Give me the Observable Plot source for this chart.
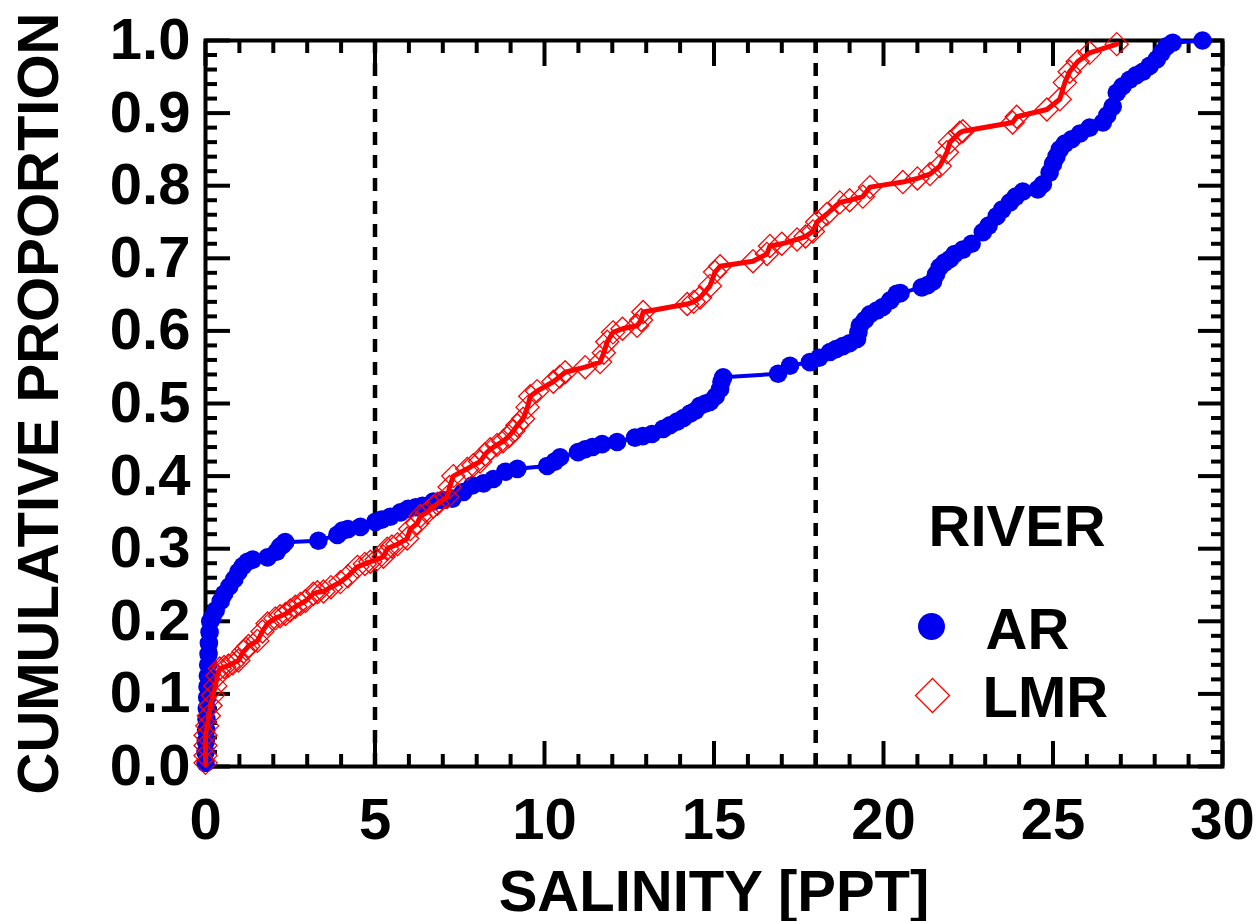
<!DOCTYPE html>
<html>
<head>
<meta charset="utf-8">
<script src="https://cdn.jsdelivr.net/npm/d3@7"></script>
<script src="https://cdn.jsdelivr.net/npm/@observablehq/plot@0.6"></script>
<style>
  html, body { margin: 0; padding: 0; background: #fff; }
  #chart { width: 1257px; height: 921px; }
</style>
</head>
<body>
<div id="chart"></div>
<script>
// Cumulative proportion of observations by salinity, for the two rivers.
const arSalinity = [
  0.00, 0.00, 0.01, 0.02, 0.03, 0.04, 0.05, 0.06, 0.07, 0.08, 0.09, 0.10, 0.12, 0.14,
  0.20, 0.30, 0.45, 0.55, 0.70, 0.85, 0.97, 1.10, 1.24, 1.39, 1.83, 2.10, 2.20, 2.27, 2.35,
  3.33, 3.89, 4.04, 4.20, 4.57, 5.01, 5.20, 5.45, 5.75, 5.98, 6.20, 6.40, 6.72, 7.00, 7.28,
  7.60, 7.87, 8.20, 8.49, 8.84, 9.20, 10.08, 10.30, 10.46, 10.99, 11.20, 11.41, 11.70, 12.14,
  12.67, 12.90, 13.17, 13.50, 13.70, 13.91, 14.10, 14.29, 14.45, 14.59, 14.75, 14.88, 15.05,
  15.18, 15.22, 15.27, 16.89, 17.24, 17.83, 18.10, 18.42, 18.60, 18.80, 19.00, 19.22, 19.26,
  19.30, 19.45, 19.60, 19.80, 19.98, 20.20, 20.39, 20.50, 21.13, 21.30, 21.46, 21.55, 21.66,
  21.80, 21.96, 22.10, 22.34, 22.60, 22.93, 23.10, 23.34, 23.50, 23.73, 23.90, 24.11, 24.55,
  24.70, 24.90, 25.00, 25.10, 25.20, 25.35, 25.55, 25.80, 26.08, 26.47, 26.60, 26.76, 26.88,
  27.05, 27.26, 27.45, 27.65, 27.85, 28.06, 28.20, 28.35, 28.53, 29.41
];
const arProportion = [
  0.005, 0.020, 0.035, 0.050, 0.065, 0.080, 0.095, 0.110, 0.125, 0.140, 0.155, 0.170, 0.185, 0.200,
  0.205, 0.215, 0.228, 0.238, 0.248, 0.258, 0.268, 0.276, 0.282, 0.285, 0.288, 0.296, 0.303, 0.305, 0.309,
  0.311, 0.319, 0.325, 0.327, 0.330, 0.337, 0.340, 0.344, 0.350, 0.355, 0.357, 0.359, 0.365, 0.367, 0.369,
  0.378, 0.387, 0.390, 0.396, 0.406, 0.410, 0.414, 0.420, 0.426, 0.433, 0.437, 0.440, 0.444, 0.447,
  0.453, 0.455, 0.458, 0.465, 0.470, 0.475, 0.480, 0.486, 0.490, 0.497, 0.500, 0.502, 0.510,
  0.520, 0.530, 0.536, 0.541, 0.552, 0.557, 0.563, 0.571, 0.575, 0.579, 0.583, 0.589, 0.598,
  0.607, 0.615, 0.623, 0.628, 0.633, 0.642, 0.651, 0.652, 0.660, 0.663, 0.668, 0.678, 0.688,
  0.694, 0.699, 0.706, 0.712, 0.720, 0.736, 0.745, 0.758, 0.767, 0.777, 0.785, 0.792, 0.795,
  0.802, 0.818, 0.830, 0.840, 0.850, 0.858, 0.864, 0.872, 0.880, 0.887, 0.897, 0.909, 0.928,
  0.937, 0.946, 0.952, 0.957, 0.965, 0.974, 0.983, 0.992, 0.997, 1.000
];

const lmrSalinity = [
  0.00, 0.00, 0.00, 0.00, 0.05, 0.10, 0.15, 0.22, 0.29, 0.35, 0.42, 0.55, 0.68, 0.80, 0.97,
  1.12, 1.20, 1.27, 1.53, 1.68, 1.83, 2.06, 2.20, 2.36, 2.50, 2.65, 2.80, 2.95, 3.18, 3.30,
  3.48, 3.70, 3.98, 4.20, 4.48, 4.70, 4.86, 5.05, 5.25, 5.36, 5.50, 5.66, 5.95, 6.04, 6.25,
  6.34, 6.54, 6.72, 6.84, 7.13, 7.20, 7.31, 7.72, 7.90, 8.10, 8.25, 8.40, 8.60, 8.78, 8.95,
  9.08, 9.20, 9.37, 9.50, 9.58, 9.78, 10.26, 10.45, 10.61, 11.20, 11.64, 11.75, 11.85,
  12.02, 12.30, 12.73, 12.85, 12.91, 14.21, 14.40, 14.59, 14.88, 15.03, 15.18, 16.15, 16.56,
  16.65, 17.00, 17.45, 17.70, 17.92, 18.04, 18.33, 18.71, 19.00, 19.39, 19.60, 20.57, 21.00,
  21.37, 21.66, 21.87, 21.96, 22.25, 22.34, 23.81, 23.93, 24.82, 25.20, 25.35, 25.49, 25.73,
  26.08, 26.88
];
const lmrProportion = [
  0.005, 0.015, 0.029, 0.043, 0.056, 0.070, 0.084, 0.098, 0.111, 0.125, 0.135, 0.137, 0.139, 0.142, 0.146,
  0.158, 0.162, 0.166, 0.173, 0.186, 0.197, 0.204, 0.207, 0.210, 0.215, 0.220, 0.224, 0.228, 0.238, 0.240,
  0.241, 0.247, 0.254, 0.262, 0.275, 0.279, 0.282, 0.285, 0.289, 0.300, 0.303, 0.306, 0.314, 0.327, 0.335,
  0.345, 0.350, 0.358, 0.362, 0.371, 0.385, 0.400, 0.410, 0.415, 0.420, 0.430, 0.437, 0.443, 0.448, 0.455,
  0.462, 0.470, 0.479, 0.495, 0.510, 0.517, 0.530, 0.537, 0.543, 0.550, 0.557, 0.570, 0.585,
  0.598, 0.603, 0.607, 0.615, 0.626, 0.637, 0.640, 0.646, 0.662, 0.681, 0.689, 0.696, 0.706,
  0.717, 0.720, 0.726, 0.730, 0.737, 0.750, 0.761, 0.777, 0.780, 0.785, 0.798, 0.805, 0.810,
  0.816, 0.827, 0.846, 0.860, 0.873, 0.875, 0.887, 0.895, 0.905, 0.919, 0.942, 0.957, 0.971,
  0.983, 0.995
];

// Axis ticks and labels
const xMajorTicks = [0, 5, 10, 15, 20, 25, 30];
const xMinorTicks = d3.range(0, 31, 1).filter(v => v % 5 !== 0);
const yMajorTicks = [0, 0.1, 0.2, 0.3, 0.4, 0.5, 0.6, 0.7, 0.8, 0.9, 1.0];
const yMinorTicks = d3.range(0, 51, 1).filter(v => v % 5 !== 0).map(v => v / 50);
const xTitle = "SALINITY [PPT]";
const yTitle = "CUMULATIVE PROPORTION";

// Reference salinity thresholds
const referenceSalinity = [5, 18];

// Legend
const legendTitle = "RIVER";
const riverNames = ["AR", "LMR"];
const riverColors = ["#0000f0", "#ff0000"];

const ar = arSalinity.map((s, i) => ({salinity: s, proportion: arProportion[i]}));
const lmr = lmrSalinity.map((s, i) => ({salinity: s, proportion: lmrProportion[i]}));

const FONT = "'Liberation Sans', Arial, Helvetica, sans-serif";
const FS = 58;
const INK = "#000";
const TICK_W = 4;
const MAJOR = 25, MINOR = 12;

// inward-pointing ticks for one side of the frame
function sideTicks(axis, anchor, values, size) {
  const opts = {anchor, tickSize: -size, fill: "none", stroke: INK, strokeWidth: TICK_W, label: null};
  return axis === "x" ? Plot.axisX(values, opts) : Plot.axisY(values, opts);
}

const chart = Plot.plot({
  width: 1257,
  height: 921,
  marginLeft: 205,
  marginRight: 35,
  marginTop: 40,
  marginBottom: 155,
  style: {fontFamily: FONT, fontWeight: "bold", fontSize: FS + "px", background: "#fff", color: INK, overflow: "visible"},
  x: {domain: [0, 30]},
  y: {domain: [0, 1]},
  marks: [
    Plot.frame({stroke: INK, strokeWidth: 4}),

    sideTicks("x", "bottom", xMajorTicks, MAJOR),
    sideTicks("x", "bottom", xMinorTicks, MINOR),
    sideTicks("x", "top", xMajorTicks, MAJOR),
    sideTicks("x", "top", xMinorTicks, MINOR),
    sideTicks("y", "left", yMajorTicks, MAJOR),
    sideTicks("y", "left", yMinorTicks, MINOR),
    sideTicks("y", "right", yMajorTicks, MAJOR),
    sideTicks("y", "right", yMinorTicks, MINOR),

    Plot.axisX(xMajorTicks, {anchor: "bottom", tickSize: 0, tickPadding: 31, label: null, fill: INK, fontSize: FS, fontWeight: "bold"}),
    Plot.axisY(yMajorTicks, {anchor: "left", tickSize: 0, tickPadding: 15, label: null, fill: INK, fontSize: FS, fontWeight: "bold", tickFormat: d3.format(".1f")}),

    Plot.text([xTitle], {frameAnchor: "bottom", dy: 144, lineAnchor: "bottom", fill: INK, fontSize: FS, fontWeight: "bold"}),
    Plot.text([yTitle], {frameAnchor: "left", rotate: -90, dx: -148, textAnchor: "middle", lineAnchor: "bottom", fill: INK, fontSize: FS, fontWeight: "bold"}),

    Plot.ruleX(referenceSalinity, {stroke: INK, strokeWidth: 4.5, strokeDasharray: "13,10"}),

    // AR
    Plot.line(ar, {x: "salinity", y: "proportion", stroke: riverColors[0], strokeWidth: 4}),
    Plot.dot(ar, {x: "salinity", y: "proportion", r: 9.3, fill: riverColors[0], stroke: "none"}),

    // LMR
    Plot.line(lmr, {x: "salinity", y: "proportion", stroke: riverColors[1], strokeWidth: 5}),
    Plot.dot(lmr, {x: "salinity", y: "proportion", symbol: "diamond2", r: 10.4, fill: "none", stroke: riverColors[1], strokeWidth: 1.3}),

    // legend
    Plot.text([legendTitle], {frameAnchor: "top-left", dx: 723, dy: 505, textAnchor: "start", lineAnchor: "bottom", fill: INK, fontSize: FS, fontWeight: "bold"}),
    Plot.dot([riverNames[0]], {frameAnchor: "top-left", dx: 726, dy: 586, r: 13.5, fill: riverColors[0], stroke: "none"}),
    Plot.dot([riverNames[1]], {frameAnchor: "top-left", dx: 727, dy: 655, symbol: "diamond2", r: 15.3, fill: "none", stroke: riverColors[1], strokeWidth: 1.3}),
    Plot.text([riverNames[0]], {frameAnchor: "top-left", dx: 780, dy: 608, textAnchor: "start", lineAnchor: "bottom", fill: INK, fontSize: FS, fontWeight: "bold"}),
    Plot.text([riverNames[1]], {frameAnchor: "top-left", dx: 777, dy: 676, textAnchor: "start", lineAnchor: "bottom", fill: INK, fontSize: FS, fontWeight: "bold"})
  ]
});

document.getElementById("chart").appendChild(chart);
</script>
</body>
</html>
